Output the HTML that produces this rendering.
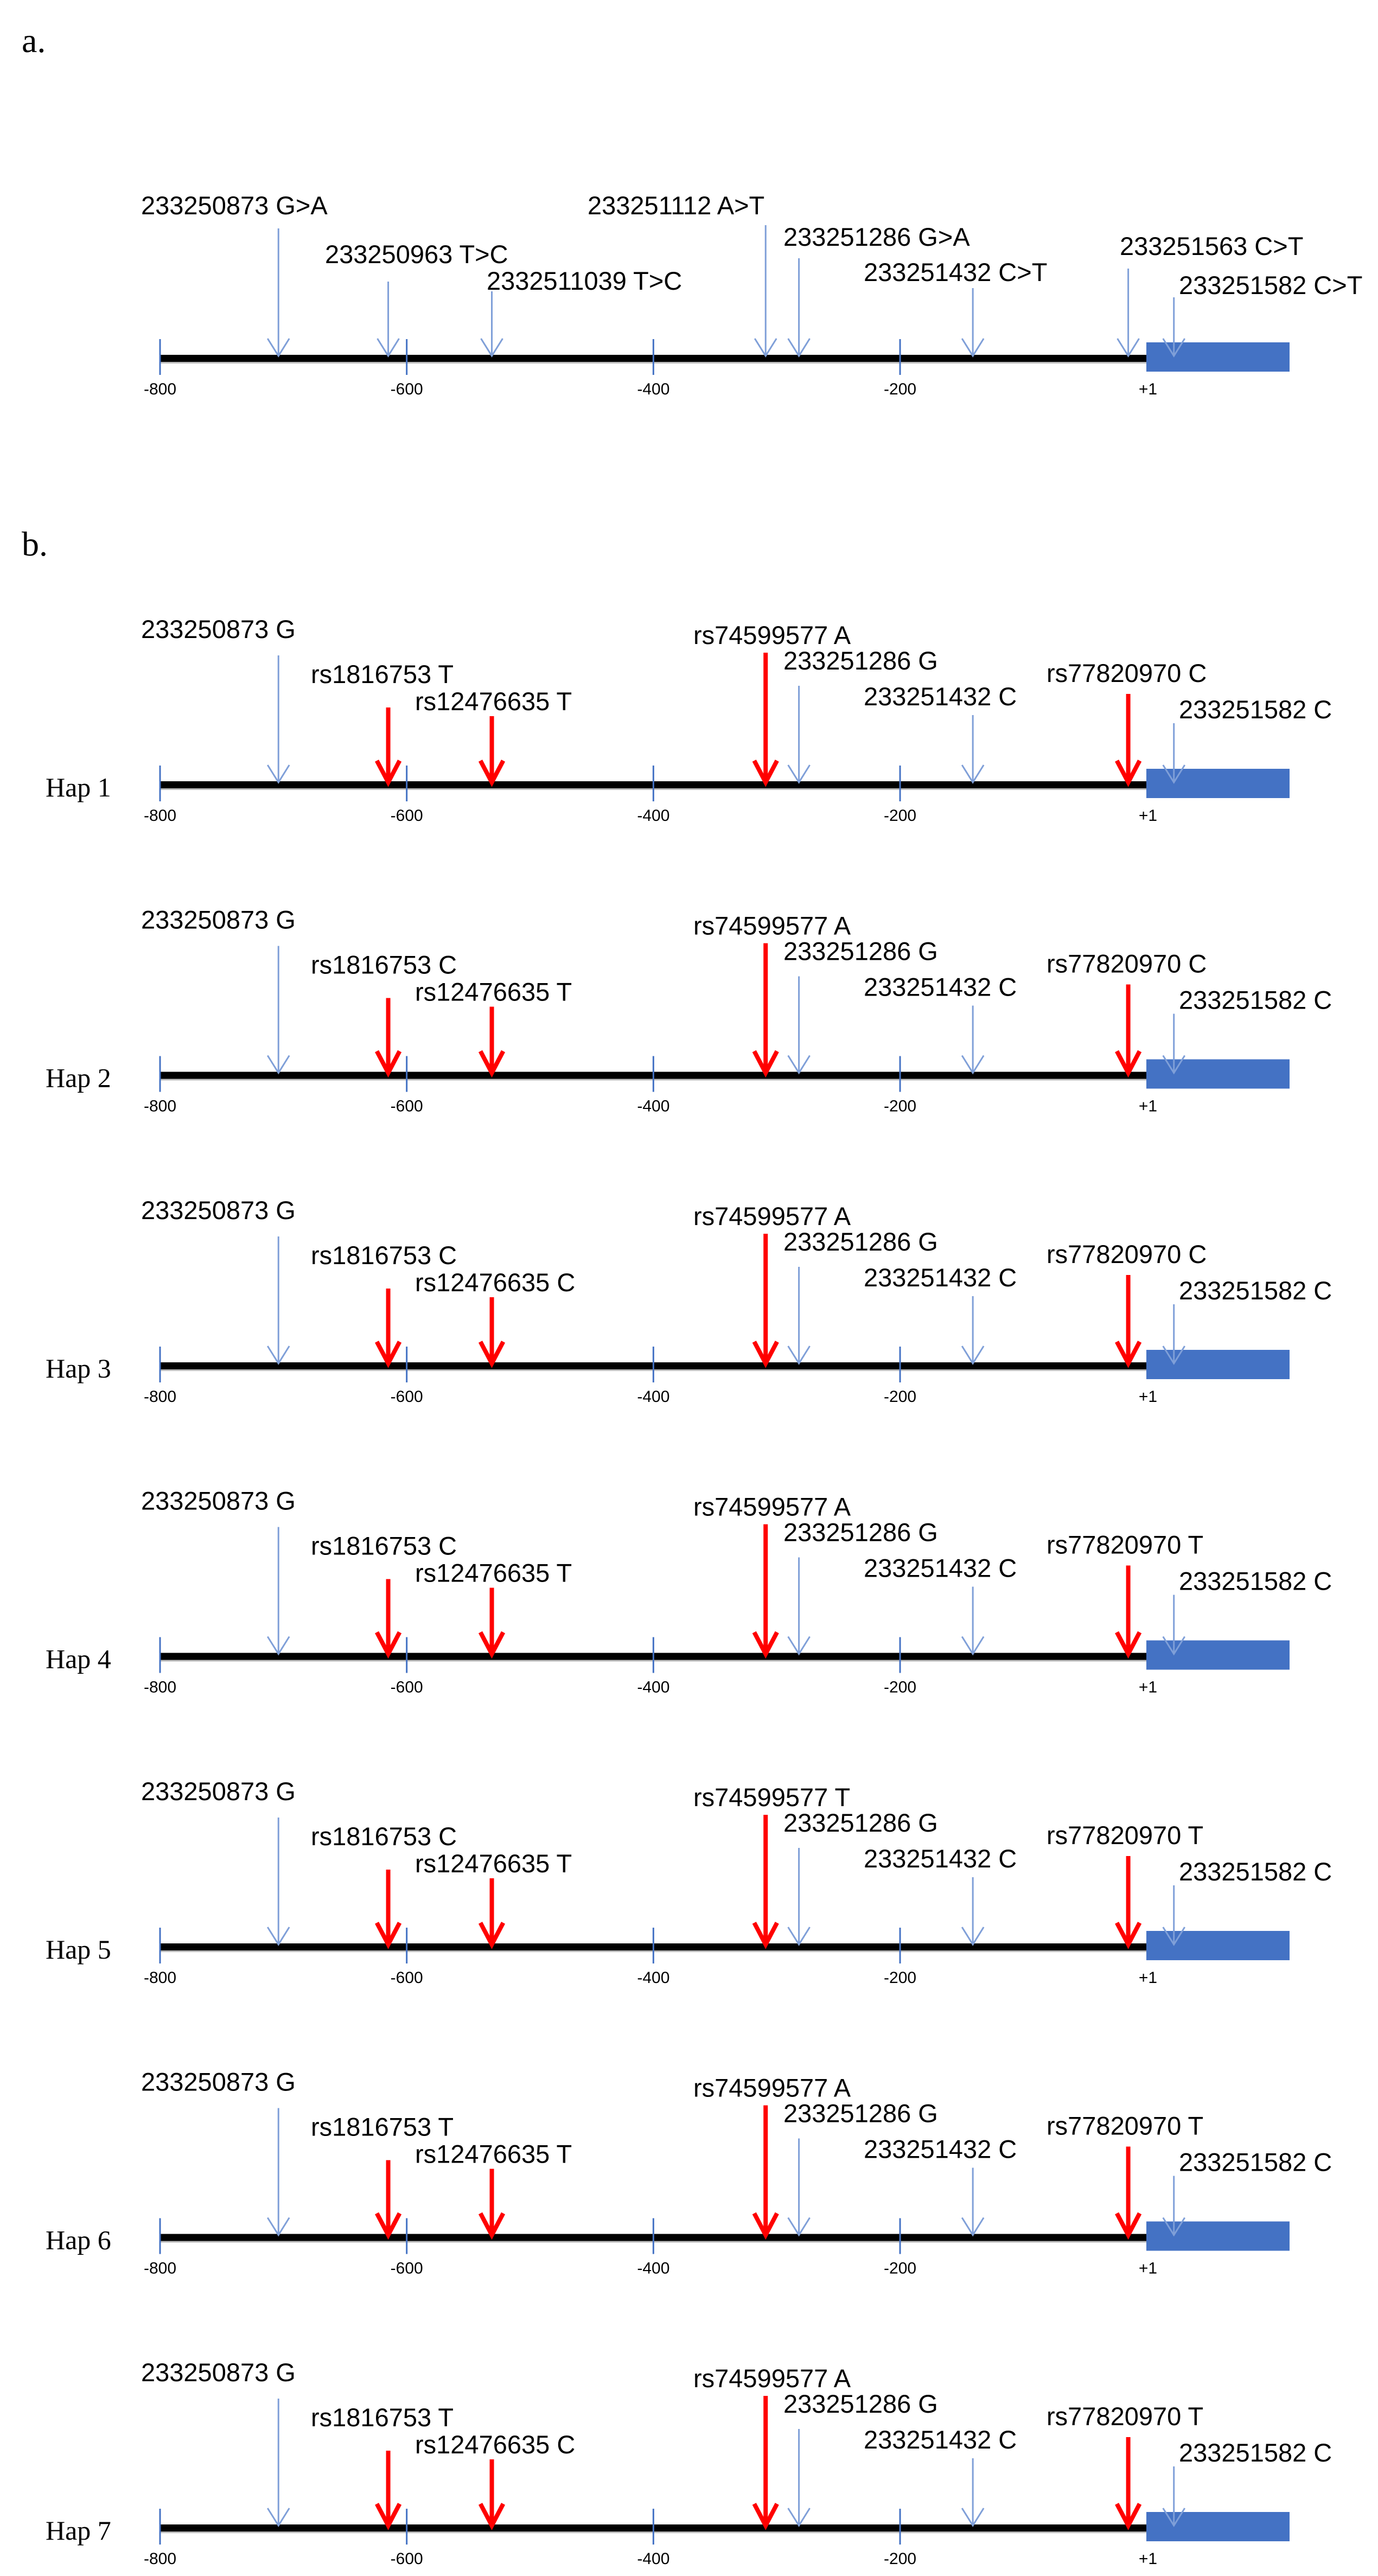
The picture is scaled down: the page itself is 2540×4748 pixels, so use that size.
<!DOCTYPE html>
<html><head><meta charset="utf-8">
<style>
html,body{margin:0;padding:0;background:#fff;}
svg{display:block;}
text{font-family:"Liberation Sans",sans-serif;fill:#000;}
.lbl{font-size:47px;}
.tick{font-size:30px;}
.ser{font-family:"Liberation Serif",serif;font-size:64px;}
</style></head>
<body>
<svg id="fig" width="2540" height="4748" viewBox="0 0 2540 4748" xmlns="http://www.w3.org/2000/svg"></svg>
<script>
// axis data
const tickValues = [-800, -600, -400, -200, 1];
const tickLabels = ["-800", "-600", "-400", "-200", "+1"];
// panel a variants
const aPositions = [-704, -615, -531, -309, -282, -141, -15, 22];
const aLabels = ["233250873 G>A","233250963 T>C","2332511039 T>C","233251112 A>T","233251286 G>A","233251432 C>T","233251563 C>T","233251582 C>T"];
// panel b variants
const bPositions = [-704, -615, -531, -309, -282, -141, -15, 22];
const bIsRed = [false, true, true, true, false, false, true, false];
const bNames = ["233250873","rs1816753","rs12476635","rs74599577","233251286","233251432","rs77820970","233251582"];
const hapNames = ["Hap 1","Hap 2","Hap 3","Hap 4","Hap 5","Hap 6","Hap 7"];
const hapAlleles = [
  ["G","T","T","A","G","C","C","C"],
  ["G","C","T","A","G","C","C","C"],
  ["G","C","C","A","G","C","C","C"],
  ["G","C","T","A","G","C","T","C"],
  ["G","C","T","T","G","C","T","C"],
  ["G","T","T","A","G","C","T","C"],
  ["G","T","C","A","G","C","T","C"]
];

const NS="http://www.w3.org/2000/svg";
const svg=document.getElementById('fig');
const X0=295, X1=2116;
function xs(p){return X0+(p+800)*(X1-X0)/801;}
function mk(tag,attrs,parent){const e=document.createElementNS(NS,tag);for(const k in attrs)e.setAttribute(k,attrs[k]);(parent||svg).appendChild(e);return e;}

// layout (not data): arrow top offsets and label offsets relative to baseline
const aTop=[-240,-142,-124,-246,-185,-130,-166,-113];
const aLblX=[260,599,897,1083,1444,1592,2064,2173];
const aLblY=[-266,-176,-127,-266,-208,-143,-191,-119];
const bTop=[-239,-143,-127,-244,-183,-129,-168,-114];
const bLblX=[260,573,765,1278,1444,1592,1929,2173];
const bLblY=[-271,-188,-138,-260,-213,-147,-190,-123];

function drawAxis(g,y){
  const line=mk('rect',{x:X0,y:y-7,width:X1-X0,height:13,fill:'#000'},g);
  
  
  mk('rect',{x:X0,y:y+6,width:X1-X0,height:3,fill:'#bdbdbd'},g);
  const box=mk('rect',{x:X1-3,y:y-30,width:264,height:54,fill:'#4472c4'},g);
  
  
  tickValues.forEach((v,i)=>{
    const x=xs(v);
    if(i<4){
      const t=mk('line',{x1:x,x2:x,y1:y-36,y2:y+30,stroke:'#4472c4','stroke-width':3},g);
      
      
    }
    const tl=mk('text',{x:x,y:y+66,'text-anchor':'middle',class:'tick'},g);
    
    
    tl.textContent=tickLabels[i];
  });
}
function arrow(g,x,top,y,red){
  const tip=y-5;
  const a=mk('g',{},g);
  
  
  if(red){
    mk('line',{x1:x,x2:x,y1:top,y2:tip-6,stroke:'#ff0000','stroke-width':8},a);
    mk('polyline',{points:`${x-21},${tip-40} ${x},${tip} ${x+21},${tip-40}`,fill:'none',stroke:'#ff0000','stroke-width':8},a);
  }else{
    mk('line',{x1:x,x2:x,y1:top,y2:tip,stroke:'#7f9fd8','stroke-width':3},a);
    mk('polyline',{points:`${x-20},${tip-32} ${x},${tip} ${x+20},${tip-32}`,fill:'none',stroke:'#7f9fd8','stroke-width':3},a);
  }
}

// Panel a
const ga=mk('g',{});


const ta=mk('text',{x:40,y:96,class:'ser'},ga);


ta.textContent='a.';
const yA=661;
drawAxis(ga,yA);
aPositions.forEach((p,i)=>{
  arrow(ga,xs(p),yA+aTop[i],yA,false);
  const t=mk('text',{x:aLblX[i],y:yA+aLblY[i],class:'lbl'},ga);
  
  
  t.textContent=aLabels[i];
});

// Panel b
const tb=mk('text',{x:40,y:1024,class:'ser'});


tb.textContent='b.';
hapNames.forEach((h,k)=>{
  const y=1447+k*535.5;
  const g=mk('g',{});
  
  
  const hl=mk('text',{x:84,y:y+21,class:'ser','font-size':'50'},g);
  hl.setAttribute('style','font-size:50px');
  
  
  hl.textContent=h;
  drawAxis(g,y);
  bPositions.forEach((p,i)=>{
    arrow(g,xs(p),y+bTop[i],y,bIsRed[i]);
    const t=mk('text',{x:bLblX[i],y:y+bLblY[i],class:'lbl'},g);
    
    
    t.textContent=bNames[i]+' '+hapAlleles[k][i];
  });
});
</script>
</body></html>
